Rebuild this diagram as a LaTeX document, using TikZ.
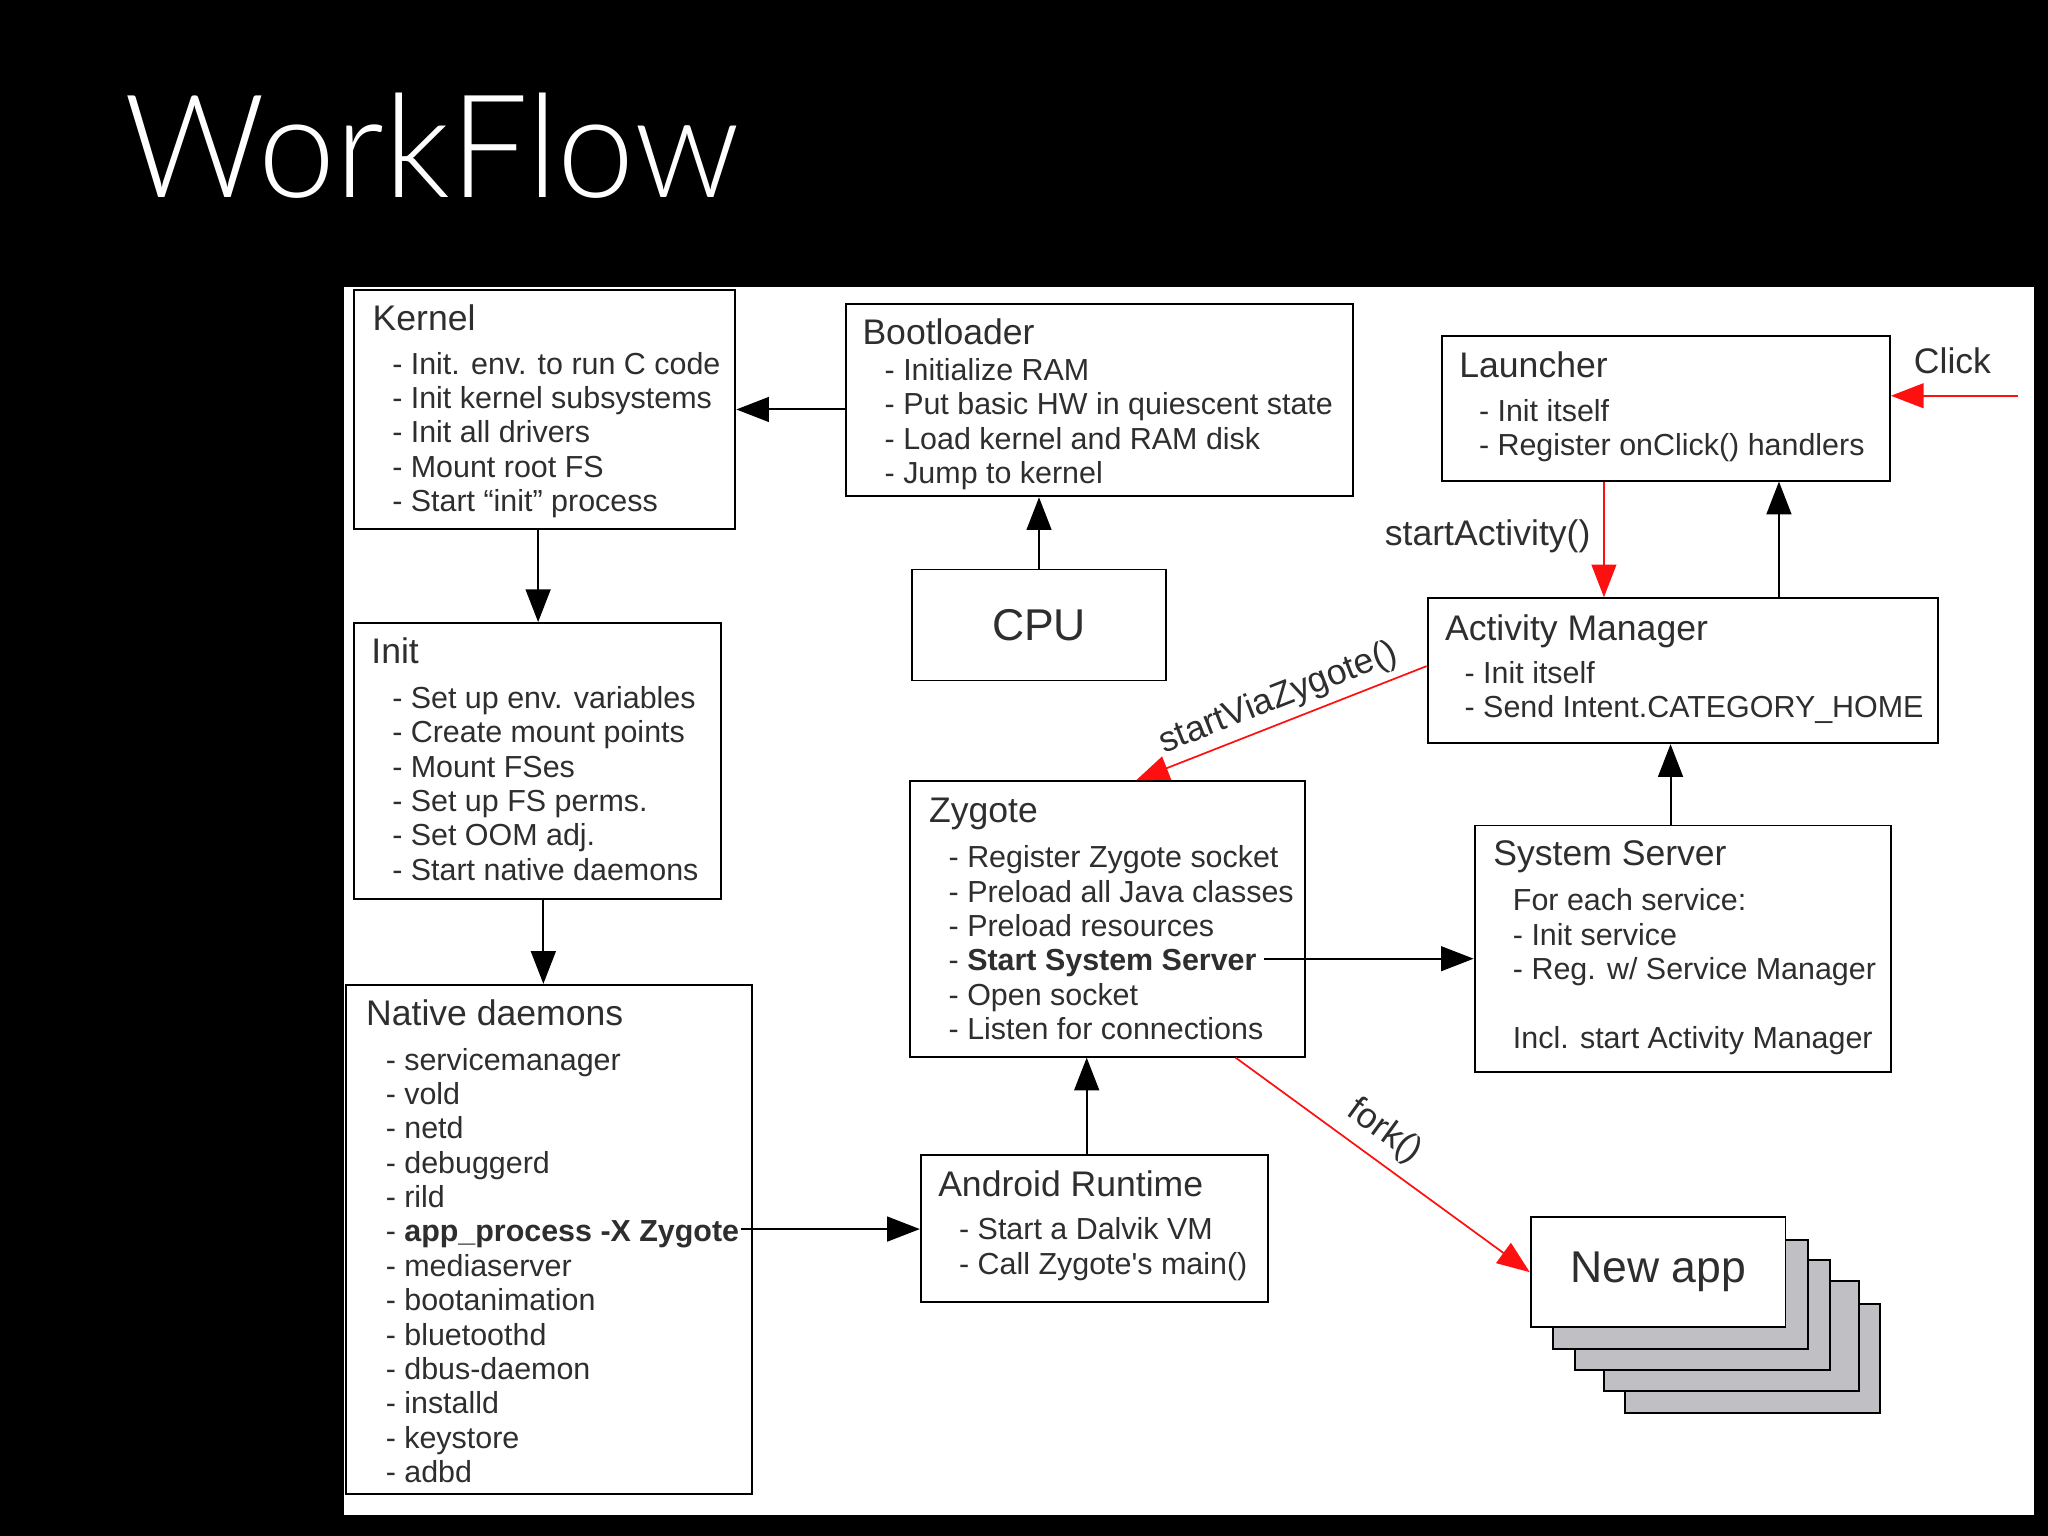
\documentclass[tikz,border=0pt]{standalone}
\usepackage{graphicx}
\usepackage{fontspec}
\setmainfont{Liberation Sans}
\IfFontExistsTF{Lato Light}{\newfontfamily\titlefont{Lato Light}}{%
  \IfFontExistsTF{Fira Sans Light}{\newfontfamily\titlefont{Fira Sans Light}}{%
    \IfFontExistsTF{Poppins Light}{\newfontfamily\titlefont{Poppins Light}}{%
      \newfontfamily\titlefont{Liberation Sans}}}}
\usetikzlibrary{arrows.meta,fit,calc}
\definecolor{txt}{HTML}{2E2E2E}
\definecolor{stackgray}{HTML}{C0BFC4}
\definecolor{arrred}{HTML}{FF1010}
\newcommand\bodytext[4]{\node[body] (#1) at (#2,{#3-17.57}) {\rule{0pt}{10pt}#4};}
\begin{document}
\begin{tikzpicture}[x=0.02cm,y=-0.02cm,
  box/.style={draw=black, line width=0.85pt, inner sep=0pt, fill=white},
  ttl/.style={font=\fontsize{15.5pt}{18pt}\selectfont, text=txt, inner sep=0pt, anchor=base west},
  body/.style={font=\fontsize{13.26pt}{14.97pt}\selectfont, text=txt, inner sep=0pt, anchor=north west, align=left},
  big/.style={font=\fontsize{19.4pt}{22pt}\selectfont, text=txt, inner sep=0pt},
  arr/.style={draw=black, line width=0.85pt, -{Triangle[length=5mm,width=3.8mm]}},
  rarr/.style={draw=arrred, line width=0.75pt, -{Triangle[length=5mm,width=3.8mm]}},
  lbl/.style={font=\fontsize{15.5pt}{18pt}\selectfont, text=txt, inner sep=0pt},
]
\useasboundingbox (0,0) rectangle (1568,1176);
\fill[black] (0,0) rectangle (1568,1176);
\fill[white] (263,220) rectangle (1557,1160);

% title
\node[anchor=south west, inner sep=0pt, text=white] (title) at (95,152) {\resizebox{9.42cm}{1.6cm}{\titlefont WorkFlow}};

% boxes
\node[box, fit={(271,222) (563,405)}] (kern) {};
\node[box, fit={(648,233) (1036,380)}] (boot) {};
\node[box, fit={(698,436) (893,521)}] (cpu) {};
\node[box, fit={(1104,257) (1447,368)}] (launch) {};
\node[box, fit={(1093,458) (1484,569)}] (am) {};
\node[box, fit={(271,477) (552,688)}] (init) {};
\node[box, fit={(265,754) (576,1144)}] (native) {};
\node[box, fit={(697,598) (999,809)}] (zyg) {};
\node[box, fit={(1129,632) (1448,821)}] (sys) {};
\node[box, fit={(705,884) (971,997)}] (ar) {};
\foreach \dx/\dy [count=\i] in {72/66,56/49,34/33,17/17}
  {\node[box, fill=stackgray, fit={({1172+\dx},{932+\dy}) ({1367+\dx},{1016+\dy})}] (stack\i) {};}
\node[box, fit={(1172,932) (1367,1016)}] (newapp) {};

% texts
\node[ttl] (kernT) at (285,253) {Kernel};
\bodytext{kernB}{300}{286}{- Init. env. to run C code\\- Init kernel subsystems\\- Init all drivers\\- Mount root FS\\- Start “init” process}

\node[ttl] (bootT) at (660,264) {Bootloader};
\bodytext{bootB}{677}{291}{- Initialize RAM\\- Put basic HW in quiescent state\\- Load kernel and RAM disk\\- Jump to kernel}

\node[big] (cpuT) at (cpu.center) {CPU};

\node[ttl] (launchT) at (1117,289) {Launcher};
\bodytext{launchB}{1132}{322}{- Init itself\\- Register onClick() handlers}

\node[ttl] (amT) at (1106,490) {Activity Manager};
\bodytext{amB}{1121}{523}{- Init itself\\- Send Intent.CATEGORY\_HOME}

\node[ttl] (initT) at (284,508) {Init};
\bodytext{initB}{300}{542}{- Set up env. variables\\- Create mount points\\- Mount FSes\\- Set up FS perms.\\- Set OOM adj.\\- Start native daemons}

\node[ttl] (nativeT) at (280,785) {Native daemons};
\bodytext{nativeB}{295}{819}{- servicemanager\\- vold\\- netd\\- debuggerd\\- rild\\- \textbf{app\_process -X Zygote}\\- mediaserver\\- bootanimation\\- bluetoothd\\- dbus-daemon\\- installd\\- keystore\\- adbd}

\node[ttl] (zygT) at (711,630) {Zygote};
\bodytext{zygB}{726}{664}{- Register Zygote socket\\- Preload all Java classes\\- Preload resources\\- \textbf{Start System Server}\\- Open socket\\- Listen for connections}

\node[ttl] (sysT) at (1143,663) {System Server};
\bodytext{sysB}{1158}{697}{For each service:\\- Init service\\- Reg. w/ Service Manager\\\mbox{}\\Incl. start Activity Manager}

\node[ttl] (arT) at (718,916) {Android Runtime};
\bodytext{arB}{734}{949}{- Start a Dalvik VM\\- Call Zygote\textquotesingle s main()}

\node[big] (newappT) at (newapp.center) {New app};

% connectors
\draw[arr] (boot.west |- kern.east) -- (kern.east);
\draw[arr] (cpu.north) -- (cpu.north |- boot.south);
\coordinate (kiS) at ($(init.north |- kern.south)+(0.5,0)$);
\draw[arr] (kiS) -- (kiS |- init.north);
\coordinate (inS) at ($(init.south)+(4.5,0)$);
\draw[arr] (inS) -- (inS |- native.north);
\coordinate (apS) at (567,941);
\draw[arr] (apS) -- (apS -| ar.west);
\coordinate (arN) at ($(ar.north)+(-6,0)$);
\draw[arr] (arN) -- (arN |- zyg.south);
\coordinate (sssS) at (968,734);
\draw[arr] (sssS) -- (sssS -| sys.west);
\coordinate (sysN) at ($(sys.north)+(-9.5,0)$);
\draw[arr] (sysN) -- (sysN |- am.south);
\coordinate (amN) at ($(am.north)+(73.5,0)$);
\draw[arr] (amN) -- (amN |- launch.south);
\coordinate (lS) at ($(launch.south)+(-47.5,0)$);
\draw[rarr] (lS) -- (lS |- am.north);
\node[lbl, anchor=base east] (saLbl) at (1218,418) {startActivity()};
\coordinate (clk) at (1545,303);
\draw[rarr] (clk) -- (clk -| launch.east);
\node[lbl, anchor=base west] (clkLbl) at (1465,286) {Click};
\coordinate (svzS) at ($(am.west)+(0,-3.5)$);
\coordinate (svzE) at ($(zyg.north)+(22,0)$);
\draw[rarr] (svzS) -- node[lbl, sloped, above=1.0mm, pos=0.48] (svzLbl) {startViaZygote()} (svzE);
\coordinate (fkS) at ($(zyg.south)+(98,0)$);
\draw[rarr] (fkS) -- node[lbl, sloped, above=1.6mm, pos=0.45] (fkLbl) {fork()} (newapp.west);
\end{tikzpicture}
\end{document}
